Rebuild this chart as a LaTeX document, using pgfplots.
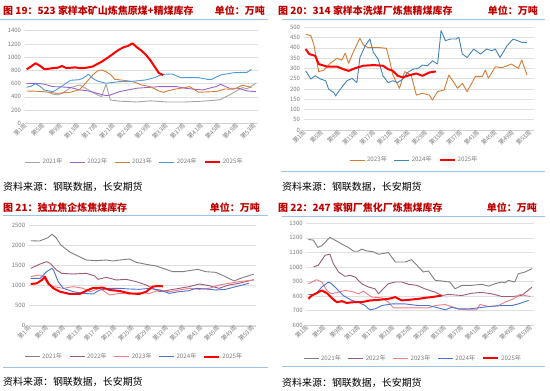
\documentclass[border=0pt]{standalone}
\usepackage{fontspec}
\setmainfont{Noto Sans CJK SC}
\usepackage{pgfplots}
\pgfplotsset{compat=1.18}
\definecolor{tred}{HTML}{C00000}
\definecolor{sepblue}{HTML}{9DC3E6}
\definecolor{tk}{HTML}{7F7F7F}
\definecolor{cgA}{HTML}{A5A5A5}
\definecolor{cpA}{HTML}{9E63C8}
\definecolor{coA}{HTML}{D87B34}
\definecolor{cbA}{HTML}{4E9AD8}
\definecolor{cgB}{HTML}{7F7F7F}
\definecolor{cmB}{HTML}{9C5A7C}
\definecolor{cpB}{HTML}{EF7C86}
\definecolor{cbB}{HTML}{4774D2}
\pgfplotsset{
 panel/.style={
  scale only axis, anchor=south west,
  xmin=0.5, xmax=53.5,
  xtick={1,5,...,53},
  xticklabels={第1周,第5周,第9周,第13周,第17周,第21周,第25周,第29周,第33周,第37周,第41周,第45周,第49周,第53周},
  xticklabel style={rotate=45, anchor=east, font=\fontsize{6}{7}\selectfont, text=tk, inner sep=1.5bp},
  yticklabel style={font=\fontsize{6}{7}\selectfont, text=tk},
  /pgf/number format/assume math mode=true,
  /pgf/number format/set thousands separator={},
  ymajorgrids, major grid style={draw=gray!25, line width=0.5bp},
  axis x line*=bottom, axis y line*=left,
  x axis line style={draw=gray!35,-}, y axis line style={draw=none},
  major tick length=0pt,
  no markers,
  legend columns=-1,
  legend style={draw=none, fill=none, font=\fontsize{6.2}{7}\selectfont, text=tk, anchor=center, /tikz/every even column/.append style={column sep=5bp}},
  legend image code/.code={\draw[##1] (0bp,0bp) -- (15bp,0bp);},
 },
 ln/.style={line width=0.9bp, line join=round},
 red25/.style={draw=red, line width=2bp, line join=round},
}
\begin{document}
\begin{tikzpicture}
\useasboundingbox (0,0) rectangle (550bp,-391bp);
\fill[white] (0,0) rectangle (550bp,-391bp);
% ---------- titles ----------
\begin{scope}[font=\bfseries\fontsize{10}{12}\selectfont, text=tred]
\node[anchor=base west, inner sep=0] at (3bp,-14.5bp) {图 19：523 家样本矿山炼焦原煤+精煤库存};
\node[anchor=base east, inner sep=0] at (265bp,-14.5bp) {单位：万吨};
\node[anchor=base west, inner sep=0] at (278bp,-14.5bp) {图 20：314 家样本洗煤厂炼焦精煤库存};
\node[anchor=base east, inner sep=0] at (538bp,-14.5bp) {单位：万吨};
\node[anchor=base west, inner sep=0] at (3bp,-211bp) {图 21：独立焦企炼焦煤库存};
\node[anchor=base east, inner sep=0] at (260bp,-211bp) {单位：万吨};
\node[anchor=base west, inner sep=0] at (278bp,-211bp) {图 22：247 家钢厂焦化厂炼焦煤库存};
\node[anchor=base east, inner sep=0] at (537bp,-211bp) {单位：万吨};
\end{scope}
\draw[sepblue, line width=0.9bp] (0bp,-19bp) -- (268bp,-19bp);
\draw[sepblue, line width=0.9bp] (282bp,-19bp) -- (545bp,-19bp);
\draw[sepblue, line width=0.9bp] (3bp,-215.7bp) -- (268bp,-215.7bp);
\draw[sepblue, line width=0.9bp] (282bp,-216bp) -- (545bp,-216bp);
\draw[sepblue, line width=1.5bp] (281bp,-171.7bp) -- (545bp,-171.7bp);
\draw[sepblue, line width=0.9bp] (3bp,-367.3bp) -- (268bp,-367.3bp);
\draw[sepblue, line width=0.9bp] (282bp,-366bp) -- (545bp,-366bp);
\begin{scope}[font=\fontsize{10}{12}\selectfont]
\node[anchor=base west, inner sep=0] at (3bp,-190bp) {资料来源：钢联数据，长安期货};
\node[anchor=base west, inner sep=0] at (282bp,-190bp) {资料来源：钢联数据，长安期货};
\node[anchor=base west, inner sep=0] at (3bp,-385bp) {资料来源：钢联数据，长安期货};
\node[anchor=base west, inner sep=0] at (282bp,-386bp) {资料来源：钢联数据，长安期货};
\end{scope}
% ---------- Panel 19 ----------
\begin{axis}[panel, at={(24.5bp,-123.3bp)}, width=233.5bp, height=92.6bp,
  ymin=0, ymax=1400, ytick={0,200,...,1400},
  legend style={at={(0.472,-0.418)}}]
\addplot[ln, cgA] coordinates {(6,470)(7,440)(8,430)(9,450)(11,540)(13,580)(15,505)(17,430)(18,403)(19,590)(20,352)(22,335)(26,322)(29,340)(33,322)(37,322)(41,335)(44,350)(45,360)(47,428)(49,505)(50,540)(51,520)(53,605)};
\addlegendentry{2021年}
\addplot[ln, cpA] coordinates {(1,600)(2,605)(4,600)(5,590)(7,554)(9,550)(11,540)(13,505)(15,490)(17,453)(19,418)(20,428)(22,478)(24,505)(26,530)(28,540)(31,554)(35,555)(37,530)(39,515)(41,505)(43,540)(44,555)(45,590)(46,560)(47,530)(49,530)(51,490)(53,478)};
\addlegendentry{2022年}
\addplot[ln, coA] coordinates {(1,488)(3,485)(5,478)(7,460)(8,453)(10,465)(11,470)(13,510)(14,580)(16,730)(17,790)(18,806)(19,780)(20,740)(21,665)(23,650)(25,630)(26,610)(27,580)(29,555)(31,490)(32,468)(33,490)(35,520)(37,540)(38,555)(40,470)(42,475)(44,480)(46,519)(48,515)(50,575)(51,560)(52,540)};
\addlegendentry{2023年}
\addplot[ln, cbA] coordinates {(1,544)(2,560)(3,599)(4,560)(5,503)(7,478)(8,520)(9,560)(10,610)(11,650)(13,660)(14,690)(15,741)(16,680)(17,640)(19,605)(22,630)(25,635)(28,655)(30,690)(31,720)(32,740)(34,746)(36,690)(38,690)(40,690)(42,665)(43,665)(45,730)(48,765)(50,770)(51,770)(52,816)};
\addlegendentry{2024年}
\addplot[red25] coordinates {(1,816)(2,860)(3,907)(4,870)(5,820)(6,825)(7,835)(8,840)(9,866)(10,835)(11,840)(12,845)(13,835)(14,835)(15,845)(16,860)(17,895)(18,930)(19,975)(20,1020)(21,1070)(22,1115)(23,1150)(24,1170)(25,1209)(26,1150)(27,1100)(28,1040)(29,960)(30,860)(31,760)(32,730)};
\addlegendentry{2025年}
\end{axis}
% ---------- Panel 20 ----------
\begin{axis}[panel, at={(303.5bp,-130bp)}, width=230bp, height=102.7bp,
  ymin=0, ymax=500, ytick={0,50,...,500},
  legend style={at={(0.482,-0.292)}}]
\addplot[ln, coA] coordinates {(1,466)(2.2,459)(2.9,414)(4.0,284)(5.2,292)(6.7,325)(8.2,349)(9.3,340)(10.1,374)(10.9,325)(12.0,381)(13.5,447)(14.3,414)(15.4,401)(17.5,402)(19.6,398)(20.4,333)(21.1,268)(22.6,203)(23.8,284)(25.3,268)(26.5,170)(27.9,179)(29.5,170)(30.2,146)(31.4,187)(32.9,195)(34.0,268)(36.0,203)(37.1,227)(38.2,187)(40.1,260)(41.7,260)(42.4,292)(43.1,252)(44.7,308)(46.2,303)(48.4,321)(50.0,300)(50.8,341)(52,268)};
\addlegendentry{2023年}
\addplot[ln, cbA!85!black] coordinates {(1,288)(2.2,248)(3.2,264)(4.4,248)(5.6,240)(6.3,199)(7.5,182)(7.9,166)(9.0,199)(10.5,240)(11.7,251)(12.8,231)(13.5,353)(14.7,410)(15.8,443)(16.6,378)(17.7,345)(18.8,264)(20.0,231)(21.1,240)(22.2,231)(23.4,248)(24.5,280)(25.7,296)(26.9,300)(27.9,316)(29.1,313)(30.2,337)(31.4,321)(32.2,484)(33.2,435)(34.4,443)(35.6,443)(36.3,451)(37.1,370)(38.2,353)(39.7,394)(41.3,370)(42.7,394)(43.9,386)(44.7,394)(45.8,353)(47.4,410)(48.8,443)(50.8,427)(52,425)};
\addlegendentry{2024年}
\addplot[red25] coordinates {(1,394)(1.8,370)(3.2,361)(4.0,321)(5.9,309)(8.2,309)(9.7,296)(10.9,288)(12.3,300)(14.3,313)(16.6,316)(18.8,313)(20.0,296)(21.1,288)(22.2,264)(23.4,256)(24.9,267)(26.5,275)(27.9,264)(29.5,280)(31.0,285)};
\addlegendentry{2025年}
\end{axis}
% ---------- Panel 21 ----------
\begin{axis}[panel, at={(28.6bp,-325.7bp)}, width=227.4bp, height=100bp,
  ymin=0, ymax=2500, ytick={0,500,...,2500},
  legend style={at={(0.465,-0.31)}}]
\addplot[ln, cgB] coordinates {(1,2125)(3,2117)(5,2200)(6,2290)(7,2184)(8,2017)(10,1850)(12,1742)(14,1642)(16.3,1625)(18.6,1642)(20.2,1617)(21.7,1642)(24,1667)(25.6,1584)(27.9,1534)(30.2,1492)(32.5,1409)(34.1,1351)(36.4,1351)(37.9,1376)(39.9,1409)(41.8,1351)(44.1,1334)(46.4,1226)(48.4,1118)(49.9,1184)(53,1290)};
\addlegendentry{2021年}
\addplot[ln, cmB] coordinates {(1,1434)(3,1534)(4.7,1601)(5.5,1559)(7,1393)(8.2,1309)(10.9,1293)(14,1309)(15.9,1243)(16.7,1159)(18.6,1209)(20.9,1143)(23.3,1159)(25.6,1101)(27.9,1018)(29.4,934)(31,851)(33.3,893)(35.6,934)(37.9,976)(40.3,1043)(42.6,1001)(44.9,934)(47.2,1018)(49.5,1059)(53,1150)};
\addlegendentry{2022年}
\addplot[ln, cpB] coordinates {(1,1226)(2.8,1268)(3.9,1226)(5.1,1018)(6.3,976)(8.6,934)(10.9,976)(13.2,934)(14.8,851)(17.1,934)(19.4,768)(21.7,809)(24,793)(26.3,826)(28.7,809)(31,893)(33.3,851)(35.6,893)(37.9,934)(40.3,909)(42.6,934)(44.9,1018)(47.2,1059)(49.5,1101)(53,1143)};
\addlegendentry{2023年}
\addplot[ln, cbB] coordinates {(1,1184)(3.2,1184)(4.7,1351)(5.9,1434)(6.3,1393)(7.4,1101)(8.6,934)(10.9,851)(13.2,809)(15.5,793)(17.1,893)(19.4,934)(21.7,934)(24,918)(26.3,909)(28.7,934)(31,893)(33.3,809)(35.6,851)(37.9,876)(39.5,934)(41.8,918)(44.1,893)(46.4,909)(48.8,976)(51.8,1059)};
\addlegendentry{2024年}
\addplot[red25] coordinates {(1,1043)(2.4,1059)(3.6,1143)(4.3,1226)(5.1,1059)(6.3,934)(7.8,851)(10.1,793)(12.4,793)(14,876)(15.5,943)(17.8,951)(19.4,893)(21.7,868)(24,809)(26.3,793)(27.9,851)(29.4,976)(30.6,993)(31.8,985)};
\addlegendentry{2025年}
\end{axis}
% ---------- Panel 22 ----------
\begin{axis}[panel, at={(306.2bp,-325bp)}, width=228bp, height=101.7bp,
  ymin=600, ymax=1300, ytick={600,700,...,1300},
  legend style={at={(0.469,-0.327)}}]
\addplot[ln, cgB] coordinates {(1,1189)(2.2,1184)(3.2,1134)(4.1,1145)(6,1203)(7.2,1184)(8.8,1157)(10.3,1134)(11.5,1108)(12.6,1108)(13.4,1122)(14.6,1110)(16.1,1104)(17.3,1087)(18.4,1092)(19.6,1099)(21.2,1034)(23.5,1034)(25,1050)(26.6,1000)(27.7,965)(28.9,972)(30.5,907)(32,903)(33.9,896)(35.1,849)(36.7,873)(39,873)(41.3,880)(42.9,868)(44.4,884)(46,896)(46.7,890)(47.5,907)(49,896)(49.8,953)(51.4,965)(53,988)};
\addlegendentry{2021年}
\addplot[ln, cmB] coordinates {(2.2,1000)(3.3,1011)(4.9,1080)(6,1087)(6.8,1023)(8,965)(9.5,935)(10.7,942)(11.9,930)(13.4,884)(15,861)(16.5,849)(17.3,815)(18.4,849)(19.6,884)(21.2,896)(22.7,896)(24.3,880)(26.2,873)(28.1,849)(30.5,826)(32,803)(33.6,810)(36.7,803)(39,819)(41.3,824)(43.6,815)(46,796)(48.3,796)(50.6,803)(53,861)};
\addlegendentry{2022年}
\addplot[ln, cpB] coordinates {(1,884)(2.9,912)(4.1,896)(5.3,838)(6.4,815)(8,826)(9.5,838)(11.1,831)(12.6,815)(13.8,833)(15.7,792)(18.1,787)(19.6,757)(20.8,718)(23.5,718)(26.6,718)(28.9,718)(30.5,734)(32.8,741)(34.3,727)(35.9,710)(38.2,704)(40.1,704)(40.9,741)(42.9,727)(45.2,734)(46.7,757)(48.7,780)(50.2,810)(51.4,803)(52.6,796)};
\addlegendentry{2023年}
\addplot[ln, cbB] coordinates {(1,810)(2.6,810)(4.1,861)(5.7,896)(6.4,884)(7.6,849)(9.1,803)(11.1,769)(12.6,757)(14.2,734)(15.3,704)(16.5,711)(18.1,734)(20.4,745)(23.5,745)(26.6,734)(28.9,734)(31.2,718)(32.8,704)(34.3,722)(35.9,711)(38.2,711)(40.5,718)(42.9,727)(46,734)(48.3,734)(49.8,745)(52.2,769)};
\addlegendentry{2024年}
\addplot[red25] coordinates {(1,780)(1.8,803)(2.9,819)(4.1,838)(5.3,819)(6.4,787)(7.6,757)(8.8,764)(9.9,752)(11.5,757)(13.4,757)(15.3,769)(17.3,773)(19.6,780)(21.2,792)(22.7,769)(24.3,773)(26.6,780)(28.1,787)(29.7,792)(32,803)};
\addlegendentry{2025年}
\end{axis}
\end{tikzpicture}
\end{document}
